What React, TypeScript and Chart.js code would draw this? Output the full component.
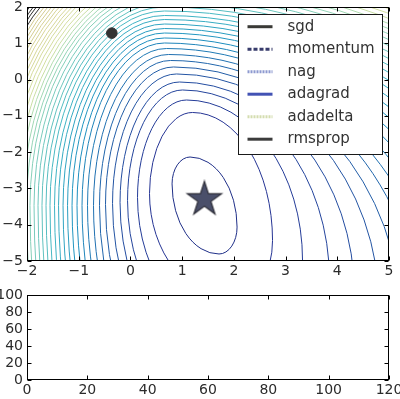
import React, { useEffect, useRef } from "react";
import { Chart, registerables } from "chart.js";

Chart.register(...registerables);
Chart.defaults.font.family = "'DejaVu Sans', sans-serif";

// ---------- axes ----------
const TOP_X_RANGE = [-2, 5];
const TOP_Y_RANGE = [-5, 2];
const TOP_STEP = 1;
const LOSS_X_RANGE = [0, 120];
const LOSS_Y_RANGE = [0, 100];
const LOSS_STEP = 20;

// ---------- series ----------
const OPTIMIZERS = ["sgd", "momentum", "nag", "adagrad", "adadelta", "rmsprop"];
const START_POINT = [{ x: -0.36, y: 1.28 }];
const MINIMUM_POINT = [{ x: 1.43, y: -3.3 }];
// loss history of every optimizer (first frame: nothing recorded yet)
const LOSS_HISTORY: { x: number; y: number }[][] = OPTIMIZERS.map(() => []);

// ---------- contour levels (innermost first) ----------
// every level is described by its leftmost, topmost, rightmost and bottommost point
const LEFT_X = [0.805, 0.369, 0.137, -0.056, -0.201, -0.346, -0.482, -0.598, -0.714, -0.83, -0.936, -1.033, -1.129, -1.216, -1.303, -1.39, -1.468, -1.555, -1.632, -1.71, -1.787, -1.864, -1.942, -2.009, -2.077, -2.145, -2.212, -2.28, -2.348, -2.415, -2.473, -2.531, -2.599, -2.657, -2.715, -2.773, -2.831, -2.889, -2.947, -3.005, -3.054, -3.112, -3.16, -3.218, -3.266, -3.315, -3.373, -3.421];
const LEFT_Y = [-2.875, -3.139, -3.25, -3.332, -3.387, -3.415, -3.442, -3.47, -3.47, -3.47, -3.47, -3.47, -3.47, -3.47, -3.47, -3.47, -3.47, -3.47, -3.47, -3.47, -3.47, -3.47, -3.47, -3.47, -3.47, -3.47, -3.47, -3.47, -3.47, -3.47, -3.47, -3.47, -3.47, -3.47, -3.47, -3.47, -3.47, -3.47, -3.47, -3.47, -3.47, -3.47, -3.47, -3.47, -3.47, -3.47, -3.47, -3.47];
const TOP_X = [1.153, 1.201, 1.085, 1.008, 0.95, 0.892, 0.834, 0.776, 0.737, 0.698, 0.66, 0.66, 0.66, 0.66, 0.66, 0.66, 0.66, 0.66, 0.66, 0.66, 0.66, 0.66, 0.66, 0.66, 0.66, 0.66, 0.66, 0.66, 0.66, 0.66, 0.66, 0.66, 0.66, 0.66, 0.66, 0.66, 0.66, 0.66, 0.66, 0.66, 0.66, 0.66, 0.66, 0.66, 0.66, 0.66, 0.66, 0.66];
const TOP_Y = [-2.134, -0.907, -0.563, -0.287, -0.067, 0.154, 0.347, 0.526, 0.691, 0.856, 1.008, 1.146, 1.283, 1.407, 1.531, 1.655, 1.766, 1.89, 2.0, 2.11, 2.22, 2.331, 2.441, 2.537, 2.634, 2.73, 2.827, 2.923, 3.019, 3.116, 3.199, 3.281, 3.378, 3.46, 3.543, 3.626, 3.708, 3.791, 3.874, 3.956, 4.025, 4.108, 4.177, 4.259, 4.328, 4.397, 4.48, 4.549];
const RIGHT_X = [2.062, 2.748, 3.328, 3.85, 4.334, 4.817, 5.243, 5.649, 6.036, 6.422, 6.809, 7.196, 7.583, 7.97, 8.356, 8.743, 9.13, 9.517, 9.903, 10.29, 10.677, 11.064, 11.45, 11.837, 12.224, 12.611, 12.998, 13.384, 13.771, 14.158, 14.545, 14.932, 15.318, 15.705, 16.092, 16.479, 16.866, 17.252, 17.639, 18.026, 18.413, 18.8, 19.186, 19.573, 19.96, 20.347, 20.734, 21.12];
const RIGHT_Y = [-4.065, -4.435, -4.986, -5.537, -5.95, -6.363, -6.777, -7.19, -7.603, -8.017, -8.43, -8.843, -9.257, -9.67, -10.083, -10.497, -10.91, -11.323, -11.737, -12.15, -12.563, -12.977, -13.39, -13.803, -14.217, -14.63, -15.043, -15.457, -15.87, -16.283, -16.697, -17.11, -17.523, -17.937, -18.35, -18.763, -19.177, -19.59, -20.003, -20.417, -20.83, -21.243, -21.657, -22.07, -22.483, -22.897, -23.31, -23.723];
const BOTTOM_X = [1.713, 2.013, 2.303, 2.593, 2.883, 3.174, 3.464, 3.754, 4.044, 4.334, 4.624, 4.914, 5.204, 5.494, 5.784, 6.074, 6.364, 6.654, 6.944, 7.234, 7.524, 7.814, 8.104, 8.394, 8.684, 8.974, 9.264, 9.554, 9.844, 10.134, 10.424, 10.714, 11.004, 11.294, 11.584, 11.874, 12.164, 12.454, 12.744, 13.034, 13.324, 13.614, 13.904, 14.194, 14.484, 14.774, 15.064, 15.354];
const BOTTOM_Y = [-4.807, -6.088, -7.19, -8.017, -8.843, -9.67, -10.497, -11.323, -12.15, -12.977, -13.803, -14.63, -15.457, -16.283, -17.11, -17.937, -18.763, -19.59, -20.417, -21.243, -22.07, -22.897, -23.723, -24.55, -25.377, -26.203, -27.03, -27.857, -28.683, -29.51, -30.337, -31.163, -31.99, -32.817, -33.643, -34.47, -35.297, -36.123, -36.95, -37.777, -38.603, -39.43, -40.257, -41.083, -41.91, -42.737, -43.563, -44.39];

// ---------- styles ----------
const LEVEL_PALETTE: [number, string][] = [
  [0, "#081d58"],
  [0.125, "#253494"],
  [0.25, "#225ea8"],
  [0.375, "#1d91c0"],
  [0.5, "#41b6c4"],
  [0.62, "#7fcdbb"],
  [0.7, "#a9dbb2"],
  [0.74, "#d2e0a2"],
  [0.87, "#d8d698"],
  [1, "#d2c88e"],
];
const COLOURED_LEVELS = 38;
const OVER_COLOUR = "#2f2f2f";
const OPT_STYLES = [
  { color: "#3a3a36", dash: [] as number[] },
  { color: "#383c6c", dash: [4, 2] },
  { color: "#8e9ad0", dash: [2, 1] },
  { color: "#4252b4", dash: [] as number[] },
  { color: "#d4ddb0", dash: [2, 1] },
  { color: "#3c3c3c", dash: [] as number[] },
];
const TEXT = "#2b2b2b";

function hexRgb(h: string) {
  return [parseInt(h.slice(1, 3), 16), parseInt(h.slice(3, 5), 16), parseInt(h.slice(5, 7), 16)];
}
function cmap(f: number) {
  const v = Math.max(0, Math.min(1, f));
  let i = 0;
  while (i < LEVEL_PALETTE.length - 2 && v > LEVEL_PALETTE[i + 1][0]) i++;
  const [f0, c0] = LEVEL_PALETTE[i];
  const [f1, c1] = LEVEL_PALETTE[i + 1];
  const t = (v - f0) / (f1 - f0);
  const a = hexRgb(c0);
  const b = hexRgb(c1);
  const c = a.map((x, j) => Math.round(x + (b[j] - x) * t));
  return `rgb(${c[0]},${c[1]},${c[2]})`;
}
function levelColour(k: number) {
  if (k >= COLOURED_LEVELS) return OVER_COLOUR;
  return cmap(0.1 + (0.9 * k) / (COLOURED_LEVELS - 1));
}
const fmt = (v: any) => {
  const n = Number(v);
  return n < 0 ? "\u2212" + Math.abs(n) : String(n);
};

function makeStar() {
  const c = document.createElement("canvas");
  c.width = 40;
  c.height = 40;
  const g = c.getContext("2d")!;
  const R = 18;
  const r = R * 0.382;
  g.beginPath();
  for (let i = 0; i < 10; i++) {
    const rad = i % 2 === 0 ? R : r;
    const a = -Math.PI / 2 + (i * Math.PI) / 5;
    const x = 20 + rad * Math.cos(a);
    const y = 20 + rad * Math.sin(a);
    if (i === 0) g.moveTo(x, y);
    else g.lineTo(x, y);
  }
  g.closePath();
  g.fillStyle = "#4a4f6a";
  g.fill();
  g.lineWidth = 1.2;
  g.strokeStyle = "#2c2c36";
  g.stroke();
  return c;
}

// contour lines: four quarter ellipses joining the extreme points of each level
const contourPlugin = {
  id: "contours",
  beforeDatasetsDraw(chart: any) {
    const { ctx, chartArea: a, scales } = chart;
    const sx = (v: number) => scales.x.getPixelForValue(v);
    const sy = (v: number) => scales.y.getPixelForValue(v);
    ctx.save();
    ctx.beginPath();
    ctx.rect(a.left, a.top, a.right - a.left, a.bottom - a.top);
    ctx.clip();
    ctx.lineWidth = 1;
    for (let k = LEFT_X.length - 1; k >= 0; k--) {
      const lx = sx(LEFT_X[k]), ly = sy(LEFT_Y[k]);
      const tx = sx(TOP_X[k]), ty = sy(TOP_Y[k]);
      const rx = sx(RIGHT_X[k]), ry = sy(RIGHT_Y[k]);
      const bx = sx(BOTTOM_X[k]), by = sy(BOTTOM_Y[k]);
      ctx.beginPath();
      ctx.ellipse(tx, ly, tx - lx, ly - ty, 0, Math.PI, 1.5 * Math.PI);
      ctx.ellipse(tx, ry, rx - tx, ry - ty, 0, 1.5 * Math.PI, 2 * Math.PI);
      ctx.ellipse(bx, ry, rx - bx, by - ry, 0, 0, 0.5 * Math.PI);
      ctx.ellipse(bx, ly, bx - lx, by - ly, 0, 0.5 * Math.PI, Math.PI);
      ctx.closePath();
      ctx.strokeStyle = levelColour(k);
      ctx.stroke();
    }
    ctx.restore();
  },
};

const framePlugin = {
  id: "frameTicks",
  afterDatasetsDraw(chart: any) {
    const { ctx, chartArea: a, scales } = chart;
    const L = Math.round(a.left) + 0.5;
    const R = Math.round(a.right) - 0.5;
    const T = Math.round(a.top) + 0.5;
    const B = Math.round(a.bottom) - 0.5;
    ctx.save();
    ctx.strokeStyle = "#000";
    ctx.lineWidth = 1;
    ctx.beginPath();
    for (const t of scales.x.ticks) {
      const px = Math.round(scales.x.getPixelForValue(t.value)) + 0.5;
      ctx.moveTo(px, B);
      ctx.lineTo(px, B - 4);
      ctx.moveTo(px, T);
      ctx.lineTo(px, T + 4);
    }
    for (const t of scales.y.ticks) {
      const py = Math.round(scales.y.getPixelForValue(t.value)) + 0.5;
      ctx.moveTo(L, py);
      ctx.lineTo(L + 4, py);
      ctx.moveTo(R, py);
      ctx.lineTo(R - 4, py);
    }
    ctx.stroke();
    ctx.strokeRect(L, T, R - L, B - T);
    ctx.restore();
  },
};

const legendPlugin = {
  id: "innerLegend",
  afterDraw(chart: any) {
    const { ctx, chartArea: a } = chart;
    const items = chart.data.datasets.filter((d: any) => OPTIMIZERS.includes(d.label));
    const w = 144;
    const h = 140;
    const left = Math.round(a.right - 7.5 - w);
    const top = Math.round(a.top + 7);
    ctx.save();
    ctx.fillStyle = "#fff";
    ctx.fillRect(left, top, w, h);
    ctx.strokeStyle = "#1a1a1a";
    ctx.lineWidth = 1;
    ctx.strokeRect(left + 0.5, top + 0.5, w, h);
    items.forEach((d: any, i: number) => {
      const y = top + 12.7 + i * 22.5;
      ctx.beginPath();
      ctx.setLineDash(d.borderDash || []);
      ctx.strokeStyle = d.borderColor;
      ctx.lineWidth = 3;
      ctx.moveTo(left + 9.5, y);
      ctx.lineTo(left + 34.5, y);
      ctx.stroke();
      ctx.setLineDash([]);
      ctx.fillStyle = "#333";
      ctx.font = "15px 'DejaVu Sans'";
      ctx.textBaseline = "middle";
      ctx.textAlign = "left";
      ctx.fillText(d.label, left + 49.5, y);
    });
    ctx.restore();
  },
};

function makeAxis(range: number[], step: number, horizontal: boolean, size: number, pad: number) {
  return {
    type: "linear" as const,
    min: range[0],
    max: range[1],
    grid: { display: false, drawTicks: false },
    border: { display: false },
    ticks: {
      stepSize: step,
      autoSkip: false,
      maxRotation: 0,
      padding: pad,
      color: TEXT,
      font: { size: 14, family: "'DejaVu Sans'", lineHeight: 1 },
      callback: fmt,
    },
    afterFit: (s: any) => {
      if (horizontal) {
        s.height = size;
        s.paddingLeft = 0;
        s.paddingRight = 0;
      } else {
        s.width = size;
        s.paddingTop = 0;
        s.paddingBottom = 0;
      }
    },
  };
}

export default function App() {
  const topRef = useRef<HTMLCanvasElement>(null);
  const bottomRef = useRef<HTMLCanvasElement>(null);

  useEffect(() => {
    const star = makeStar();
    const optimizerSets = OPTIMIZERS.map((name, i) => ({
      label: name,
      data: START_POINT.slice(),
      showLine: true,
      borderColor: OPT_STYLES[i].color,
      borderDash: OPT_STYLES[i].dash,
      borderWidth: 2,
      pointRadius: 0,
      order: 2,
    }));
    const top = new Chart(topRef.current!, {
      type: "scatter",
      data: {
        datasets: [
          ...optimizerSets,
          {
            label: "start",
            data: START_POINT,
            pointRadius: 5.3,
            pointBackgroundColor: "#333",
            pointBorderColor: "#333",
            order: 1,
          },
          {
            label: "minimum",
            data: MINIMUM_POINT,
            pointStyle: star,
            pointRadius: 18,
            order: 0,
          },
        ] as any,
      },
      options: {
        animation: false,
        responsive: false,
        devicePixelRatio: 1,
        events: [],
        layout: { autoPadding: false, padding: { left: 0, top: 7, right: 11, bottom: 0 } },
        plugins: { legend: { display: false }, tooltip: { enabled: false } },
        scales: {
          x: makeAxis(TOP_X_RANGE, TOP_STEP, true, 24, 3),
          y: makeAxis(TOP_Y_RANGE, TOP_STEP, false, 27, 4),
        },
      } as any,
      plugins: [contourPlugin, framePlugin, legendPlugin],
    });

    const bottom = new Chart(bottomRef.current!, {
      type: "scatter",
      data: {
        datasets: OPTIMIZERS.map((name, i) => ({
          label: name,
          data: LOSS_HISTORY[i],
          showLine: true,
          borderColor: OPT_STYLES[i].color,
          borderDash: OPT_STYLES[i].dash,
          borderWidth: 2,
          pointRadius: 0,
        })),
      },
      options: {
        animation: false,
        responsive: false,
        devicePixelRatio: 1,
        events: [],
        layout: { autoPadding: false, padding: { left: 0, top: 10, right: 11, bottom: 0 } },
        plugins: { legend: { display: false }, tooltip: { enabled: false } },
        scales: {
          x: makeAxis(LOSS_X_RANGE, LOSS_STEP, true, 19, 3),
          y: makeAxis(LOSS_Y_RANGE, LOSS_STEP, false, 27, 4),
        },
      } as any,
      plugins: [framePlugin],
    });

    return () => {
      top.destroy();
      bottom.destroy();
    };
  }, []);

  return (
    <div style={{ position: "absolute", left: 0, top: 0, width: 400, height: 399, background: "#fff", overflow: "hidden" }}>
      <canvas ref={topRef} width={400} height={285} style={{ position: "absolute", left: 0, top: 0, width: 400, height: 285 }} />
      <canvas ref={bottomRef} width={400} height={114} style={{ position: "absolute", left: 0, top: 285, width: 400, height: 114 }} />
    </div>
  );
}
